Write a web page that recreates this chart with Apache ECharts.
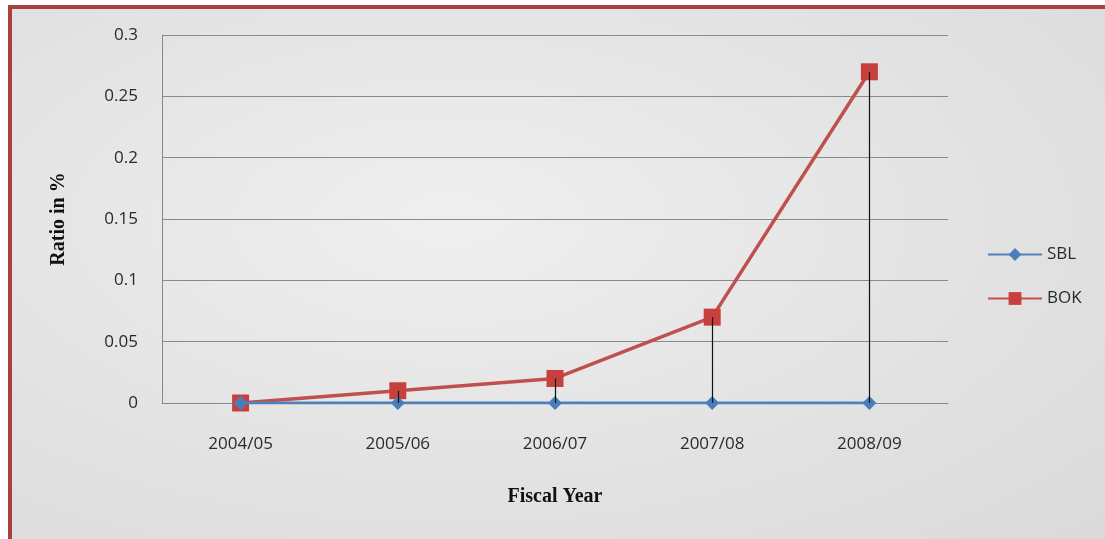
<!DOCTYPE html>
<html>
<head>
<meta charset="utf-8">
<script src="https://cdn.jsdelivr.net/npm/echarts@6/dist/echarts.min.js"></script>
<style>
  html, body { margin: 0; padding: 0; background: #ffffff; }
  #frame {
    position: absolute; left: 8px; top: 5px; width: 1093px; height: 530px;
    border-top: 4px solid #a8403e; border-left: 4px solid #a8403e;
    border-right: 2px solid #f0d8d8; border-bottom: 2px solid #f2c8c8;
    background: radial-gradient(ellipse at 40% 40%, #efefef 0%, #e2e2e2 60%, #dadada 100%);
  }
  #chart { position: absolute; left: 0; top: 0; width: 1105px; height: 539px; }
</style>
</head>
<body>
<div id="frame"></div>
<div id="chart"></div>
<script>
const categories = ['2004/05', '2005/06', '2006/07', '2007/08', '2008/09'];
const sblValues = [0, 0, 0, 0, 0];
const bokValues = [0, 0.01, 0.02, 0.07, 0.27];
const yTicks = { min: 0, max: 0.3, interval: 0.05 };

const chart = echarts.init(document.getElementById('chart'), null, { renderer: 'canvas' });

const dropLines = categories.map((c, i) => [
  { xAxis: c, yAxis: bokValues[i] },
  { xAxis: c, yAxis: sblValues[i] }
]);

chart.setOption({
  backgroundColor: 'transparent',
  animation: false,
  grid: { left: 162, top: 35, right: 157, bottom: 136 },
  legend: {
    orient: 'vertical',
    left: 982,
    top: 241,
    itemGap: 27,
    itemWidth: 54,
    itemHeight: 16,
    textStyle: { fontFamily: 'Open Sans, DejaVu Sans, sans-serif', fontSize: 17, color: '#2a2a2a' },
    data: ['SBL', 'BOK']
  },
  xAxis: {
    type: 'category',
    data: categories,
    boundaryGap: true,
    name: 'Fiscal Year',
    nameLocation: 'middle',
    nameGap: 84,
    nameTextStyle: { fontFamily: 'Liberation Serif, Times New Roman, serif', fontWeight: 'bold', fontSize: 20, color: '#111' },
    axisLine: { show: true, lineStyle: { color: '#888', width: 1 } },
    axisTick: { show: false },
    axisLabel: { margin: 33, fontFamily: 'Open Sans, DejaVu Sans, sans-serif', fontSize: 17, color: '#2a2a2a' },
    splitLine: { show: false }
  },
  yAxis: {
    type: 'value',
    min: yTicks.min,
    max: yTicks.max,
    interval: yTicks.interval,
    name: 'Ratio in %',
    nameLocation: 'middle',
    nameGap: 93,
    nameTextStyle: { fontFamily: 'Liberation Serif, Times New Roman, serif', fontWeight: 'bold', fontSize: 20, color: '#111' },
    axisLine: { show: true, lineStyle: { color: '#888', width: 1 } },
    axisTick: { show: false },
    axisLabel: { margin: 24, fontFamily: 'Open Sans, DejaVu Sans, sans-serif', fontSize: 17, color: '#2a2a2a' },
    splitLine: { show: true, lineStyle: { color: '#8a8a8a', width: 1 } }
  },
  series: [
    {
      name: 'BOK',
      type: 'line',
      data: bokValues,
      symbol: 'rect',
      symbolSize: 17,
      z: 2,
      lineStyle: { color: '#c0504d', width: 3.5 },
      itemStyle: { color: '#c8403d' },
      markLine: {
        silent: true,
        symbol: 'none',
        label: { show: false },
        lineStyle: { color: '#111', width: 1.2, type: 'solid' },
        data: dropLines
      }
    },
    {
      name: 'SBL',
      type: 'line',
      data: sblValues,
      symbol: 'diamond',
      symbolSize: 14,
      z: 3,
      lineStyle: { color: '#4f81bd', width: 3 },
      itemStyle: { color: '#4a7ebb' }
    }
  ]
});
</script>
</body>
</html>
